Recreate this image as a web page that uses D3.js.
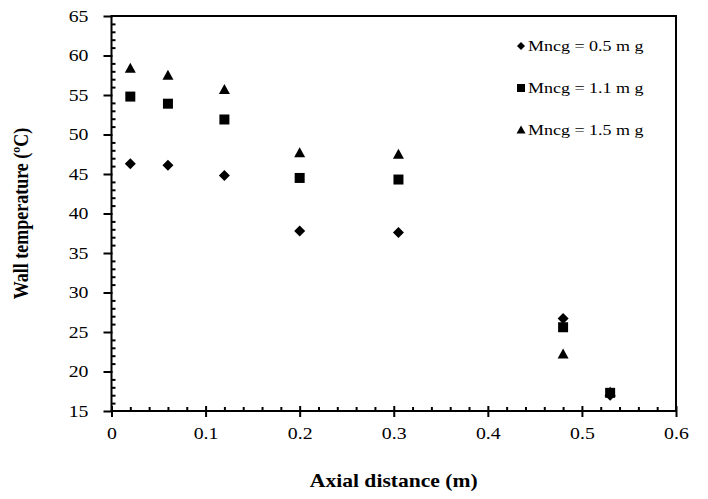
<!DOCTYPE html>
<html lang="en">
<head>
<meta charset="utf-8">
<title>Wall temperature vs axial distance</title>
<script src="https://cdn.jsdelivr.net/npm/d3@7"></script>
<style>
  body { margin: 0; padding: 0; background: #fff; }
  svg { display: block; }
  .serif { font-family: 'Liberation Serif', 'Times New Roman', serif; }
</style>
</head>
<body>
<div id="chart"></div>
<script>
// data
var axialDist = [0.02, 0.06, 0.12, 0.2, 0.305, 0.48, 0.53];
var temp05 = [46.3, 46.1, 44.8, 37.8, 37.6, 26.7, 17.0];
var temp11 = [54.8, 53.9, 51.9, 44.5, 44.3, 25.6, 17.3];
var temp15 = [58.4, 57.5, 55.7, 47.7, 47.5, 22.2, 17.4];
var seriesNames = ["Mncg = 0.5 m g", "Mncg = 1.1 m g", "Mncg = 1.5 m g"];
var xTicks = [0, 0.1, 0.2, 0.3, 0.4, 0.5, 0.6];
var yTicks = [15, 20, 25, 30, 35, 40, 45, 50, 55, 60, 65];

var W = 708, H = 499;
var pLeft = 111.5, pRight = 676, pTop = 16, pBottom = 411;
var stretch = 1.2;   // the original is a bit wider than tall

var svg = d3.select("#chart").append("svg")
    .attr("width", W).attr("height", H);

var x = d3.scaleLinear().domain([0, 0.6]).range([pLeft, pRight]);
var y = d3.scaleLinear().domain([15, 65]).range([pBottom, pTop]);

// marker shapes
function shape(kind, s) {
  var h = s / 2;
  if (kind == "diamond") return "M0," + (-h) + "L" + h + ",0L0," + h + "L" + (-h) + ",0Z";
  if (kind == "square") return "M" + (-h) + "," + (-h) + "h" + s + "v" + s + "h" + (-s) + "Z";
  return "M0," + (-h - 0.5) + "L" + (h + 0.5) + "," + (h - 0.5) + "L" + (-h - 0.5) + "," + (h - 0.5) + "Z";
}

// plot frame (top and right)
svg.append("path")
  .attr("d", "M" + pLeft + "," + pTop + "H" + pRight + "V" + pBottom)
  .attr("fill", "none").attr("stroke", "#000").attr("stroke-width", 2);

// minor ticks y (inside)
var yMinor = d3.range(15, 66, 1).filter(function(v) { return v % 5 != 0; });
svg.append("g")
  .attr("transform", "translate(" + pLeft + ",0)")
  .call(d3.axisRight(y).tickValues(yMinor).tickSize(4).tickFormat(""))
  .call(function(g) { g.select(".domain").remove(); g.selectAll("line").attr("stroke-width", 2); });

// minor ticks x (inside)
var xMinor = d3.range(0, 31).map(function(i) { return i * 0.02; })
  .filter(function(v, i) { return i % 5 != 0; });
svg.append("g")
  .attr("transform", "translate(0," + pBottom + ")")
  .call(d3.axisTop(x).tickValues(xMinor).tickSize(4).tickFormat(""))
  .call(function(g) { g.select(".domain").remove(); g.selectAll("line").attr("stroke-width", 2); });

// y axis
var yAxis = svg.append("g")
  .attr("transform", "translate(" + pLeft + ",0)")
  .call(d3.axisLeft(y).tickValues(yTicks).tickSize(7).tickSizeOuter(0).tickPadding(16));
yAxis.select(".domain").attr("stroke-width", 2).attr("d", "M0," + (pTop - 1) + "V" + (pBottom + 1));
yAxis.selectAll("line").attr("stroke-width", 2).attr("x2", -8).attr("x1", 1);
yAxis.selectAll("text")
  .attr("class", "serif")
  .attr("font-size", 16.5)
  .attr("fill", "#000")
  .attr("transform", "translate(-23,0) scale(" + stretch + ",1) translate(23,0)");

// x axis
var xAxis = svg.append("g")
  .attr("transform", "translate(0," + pBottom + ")")
  .call(d3.axisBottom(x).tickValues(xTicks).tickSize(6).tickSizeOuter(0).tickPadding(10)
    .tickFormat(function(d) { return d3.format("")(d); }));
xAxis.select(".domain").attr("stroke-width", 2).attr("d", "M" + (pLeft - 1) + ",0H" + (pRight + 1));
xAxis.selectAll("line").attr("stroke-width", 2).attr("y1", -5);
xAxis.selectAll("text")
  .attr("class", "serif")
  .attr("font-size", 16.5)
  .attr("fill", "#000")
  .attr("transform", "scale(" + stretch + ",1)")
  .attr("x", 0);

// markers
var series = [
  { vals: temp05, kind: "diamond", size: 11 },
  { vals: temp11, kind: "square", size: 10 },
  { vals: temp15, kind: "triangle", size: 10 }
];
series.forEach(function(s) {
  svg.append("g").selectAll("path")
    .data(axialDist.map(function(d, i) { return [d, s.vals[i]]; }))
    .enter().append("path")
      .attr("d", shape(s.kind, s.size))
      .attr("transform", function(d) { return "translate(" + x(d[0]) + "," + y(d[1]) + ")"; })
      .attr("fill", "#000");
});

// legend
var legY = [46, 88, 130];
var leg = svg.append("g");
series.forEach(function(s, i) {
  leg.append("path")
    .attr("d", shape(s.kind, 8))
    .attr("transform", "translate(521," + legY[i] + ")")
    .attr("fill", "#000");
  leg.append("text")
    .attr("class", "serif")
    .attr("font-size", 15)
    .attr("x", 0).attr("y", 0).attr("dy", "0.35em")
    .attr("transform", "translate(528," + legY[i] + ") scale(" + stretch + ",1)")
    .text(seriesNames[i]);
});

// axis titles
svg.append("text")
  .attr("class", "serif")
  .attr("font-size", 18).attr("font-weight", "bold")
  .attr("text-anchor", "middle")
  .attr("transform", "translate(" + ((pLeft + pRight) / 2) + ",487) scale(" + stretch + ",1)")
  .text("Axial distance (m)");

svg.append("text")
  .attr("class", "serif")
  .attr("font-size", 18).attr("font-weight", "bold")
  .attr("text-anchor", "middle")
  .attr("transform", "translate(28," + ((pTop + pBottom) / 2) + ") scale(" + stretch + ",1) rotate(-90)")
  .text("Wall temperature (\u00baC)");
</script>
</body>
</html>
